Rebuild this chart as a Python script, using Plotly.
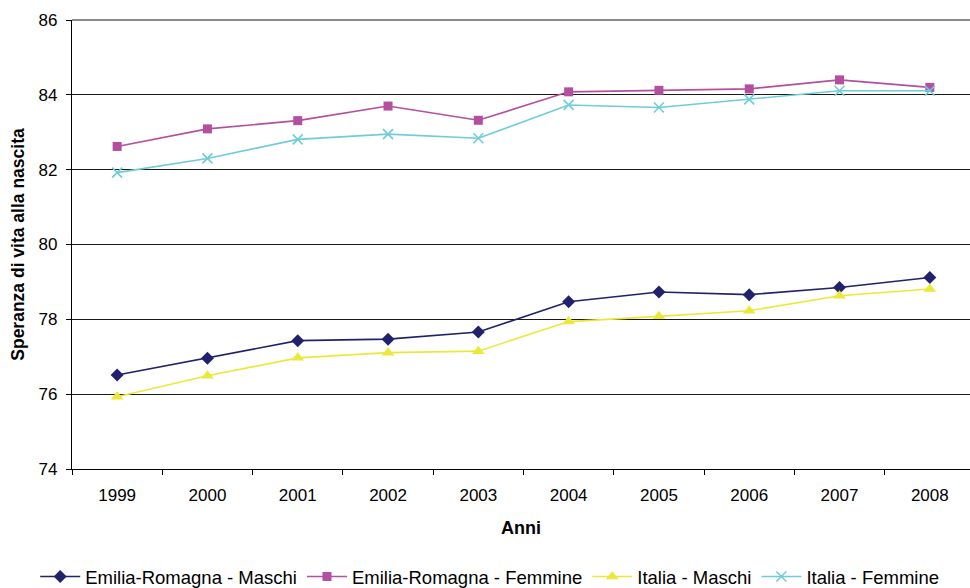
import plotly.graph_objects as go

anni = ["1999", "2000", "2001", "2002", "2003", "2004", "2005", "2006", "2007", "2008"]

er_maschi = [76.51, 76.96, 77.43, 77.47, 77.66, 78.47, 78.73, 78.66, 78.85, 79.12]
er_femmine = [82.62, 83.09, 83.31, 83.70, 83.32, 84.08, 84.12, 84.16, 84.40, 84.20]
it_maschi = [75.93, 76.49, 76.97, 77.11, 77.15, 77.94, 78.08, 78.23, 78.63, 78.81]
it_femmine = [81.92, 82.30, 82.81, 82.95, 82.84, 83.73, 83.66, 83.88, 84.11, 84.11]

y_ticks = [74, 76, 78, 80, 82, 84, 86]

series = [
    ("Emilia-Romagna - Maschi", er_maschi, "#22226c", "diamond", 10),
    ("Emilia-Romagna - Femmine", er_femmine, "#b44f9f", "square", 9),
    ("Italia - Maschi", it_maschi, "#ece83a", "triangle-up", 11),
    ("Italia - Femmine", it_femmine, "#6fcdd9", "x-thin", 10),
]

font_family = "Liberation Sans, Arial, sans-serif"

fig = go.Figure()
for name, vals, color, symbol, size in series:
    marker = dict(symbol=symbol, size=size, color=color)
    if symbol == "x-thin":
        marker["line"] = dict(color=color, width=1.6)
    fig.add_trace(go.Scatter(
        x=anni, y=vals, name=name, mode="lines+markers",
        line=dict(color=color, width=1.6),
        marker=marker,
    ))

fig.update_layout(
    width=970, height=588,
    margin=dict(l=72, r=0, t=20, b=119, autoexpand=False),
    paper_bgcolor="white", plot_bgcolor="white",
    font=dict(family=font_family, size=17, color="black"),
    showlegend=True,
    legend=dict(
        orientation="h", x=-0.041, xanchor="left",
        y=-0.2405, yanchor="middle",
        font=dict(size=18.5, color="black"), itemwidth=40, tracegroupgap=0,
    ),
    xaxis=dict(
        type="category", range=[-0.5, 9.445],
        tickson="boundaries", ticks="outside", ticklen=5, tickcolor="black",
        showline=True, linecolor="black", linewidth=1.2,
        showgrid=False, tickfont=dict(size=17), ticklabelstandoff=10,
        title=dict(text="<b>Anni</b>", font=dict(size=18), standoff=17),
    ),
    yaxis=dict(
        range=[74, 86], tickvals=y_ticks,
        ticks="outside", ticklen=5, tickcolor="black",
        showline=True, linecolor="black", linewidth=1.2,
        showgrid=True, gridcolor="#1a1a1a", gridwidth=1,
        zeroline=False, tickfont=dict(size=17), ticklabelstandoff=5,
        title=dict(text="<b>Speranza di vita alla nascita</b>", font=dict(size=17.5), standoff=9),
    ),
    shapes=[dict(
        type="line", xref="paper", yref="paper", x0=0, x1=1, y0=1, y1=1,
        line=dict(color="#8a8a8a", width=2), layer="above",
    )],
)

fig.write_html("out.html")
